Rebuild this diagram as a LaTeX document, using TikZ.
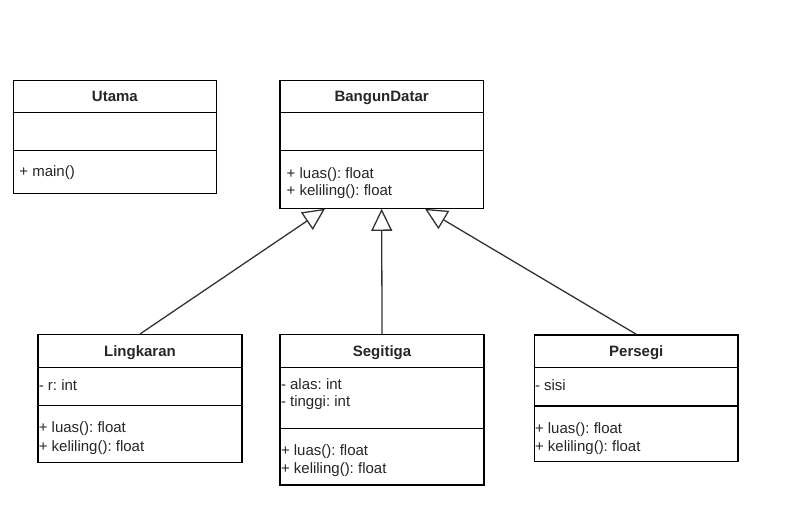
\documentclass[tikz,border=0pt]{standalone}
\usepackage{fontspec}
\setmainfont{Liberation Sans}
\usetikzlibrary{arrows.meta,calc}
\frenchspacing
\begin{document}
\begin{tikzpicture}[x=1pt,y=-1pt,
  font=\fontsize{15}{18}\selectfont\frenchspacing,
  classbox/.style={draw=black, line width=1.3pt, minimum width=204pt, inner sep=0pt, anchor=north west, fill=white},
  sepline/.style={line width=1.3pt, draw=black},
  title/.style={font=\fontsize{15}{18}\selectfont\bfseries\frenchspacing, inner sep=0pt, anchor=base, text=black!85},
  member/.style={inner sep=0pt, anchor=base west, text=black!85},
  inherit/.style={line width=1.3pt, draw=black!80, -{Triangle[open, length=22pt, width=21pt, line width=1.3pt]}}
]
\useasboundingbox[fill=white] (0,0) rectangle (796,531);

% Utama
\node[classbox, minimum width=203.5pt, minimum height=113.5pt] (utama) at (12.5,79.5) {};
\draw[sepline] ($(utama.north west)+(0,33)$) -- ($(utama.north east)+(0,33)$);
\draw[sepline] ($(utama.north west)+(0,71)$) -- ($(utama.north east)+(0,71)$);
\node[title] (utamaT) at ($(utama.north)+(0,22)$) {Utama};
\node[member] (utamaM1) at (19.2,176.7) {+ main()};

% BangunDatar
\node[classbox, minimum width=203.4pt, minimum height=128pt] (bd) at (279.3,79.5) {};
\draw[sepline] ($(bd.north west)+(0,33)$) -- ($(bd.north east)+(0,33)$);
\draw[sepline] ($(bd.north west)+(0,71)$) -- ($(bd.north east)+(0,71)$);
\node[title] (bdT) at ($(bd.north)+(0,22)$) {BangunDatar};
\node[member] (bdM1) at (286.5,178.3) {+ luas(): float};
\node[member] (bdM2) at (286.5,195.7) {+ keliling(): float};

% Lingkaran
\node[classbox, minimum height=127.7pt] (ling) at (37.3,334) {};
\draw[sepline] ($(ling.north west)+(0,33.3)$) -- ($(ling.north east)+(0,33.3)$);
\draw[sepline] ($(ling.north west)+(0,71.7)$) -- ($(ling.north east)+(0,71.7)$);
\node[title] (lingT) at ($(ling.north)+(0,22)$) {Lingkaran};
\node[member] (lingA1) at (38.6,390) {- r: int};
\node[member] (lingM1) at (38.6,432.3) {+ luas(): float};
\node[member] (lingM2) at (38.6,451) {+ keliling(): float};

% Segitiga
\node[classbox, minimum height=150.3pt] (seg) at (279.4,334) {};
\draw[sepline] ($(seg.north west)+(0,33.3)$) -- ($(seg.north east)+(0,33.3)$);
\draw[sepline] ($(seg.north west)+(0,94.3)$) -- ($(seg.north east)+(0,94.3)$);
\node[title] (segT) at ($(seg.north)+(0,22)$) {Segitiga};
\node[member] (segA1) at (280.8,389) {- alas: int};
\node[member] (segA2) at (280.8,406.7) {- tinggi: int};
\node[member] (segM1) at (280.8,455.7) {+ luas(): float};
\node[member] (segM2) at (280.8,473.3) {+ keliling(): float};

% Persegi
\node[classbox, minimum width=203.3pt, minimum height=126.4pt] (per) at (534,334.3) {};
\draw[sepline] ($(per.north west)+(0,33)$) -- ($(per.north east)+(0,33)$);
\draw[sepline] ($(per.north west)+(0,71.7)$) -- ($(per.north east)+(0,71.7)$);
\node[title] (perT) at ($(per.north)+(0,22)$) {Persegi};
\node[member] (perA1) at (534.8,390) {- sisi};
\node[member] (perM1) at (534.8,433.3) {+ luas(): float};
\node[member] (perM2) at (534.8,451) {+ keliling(): float};

% connector end points on BangunDatar
\coordinate (bdL) at ($(bd.south west)+(45.7,0)$);
\coordinate (bdR) at ($(bd.south west)+(145.7,0)$);

\draw[inherit] (ling.north) -- (bdL);
\draw[inherit] (seg.north) -- (bd.south);
\draw[inherit] (per.north) -- (bdR);
\end{tikzpicture}
\end{document}
